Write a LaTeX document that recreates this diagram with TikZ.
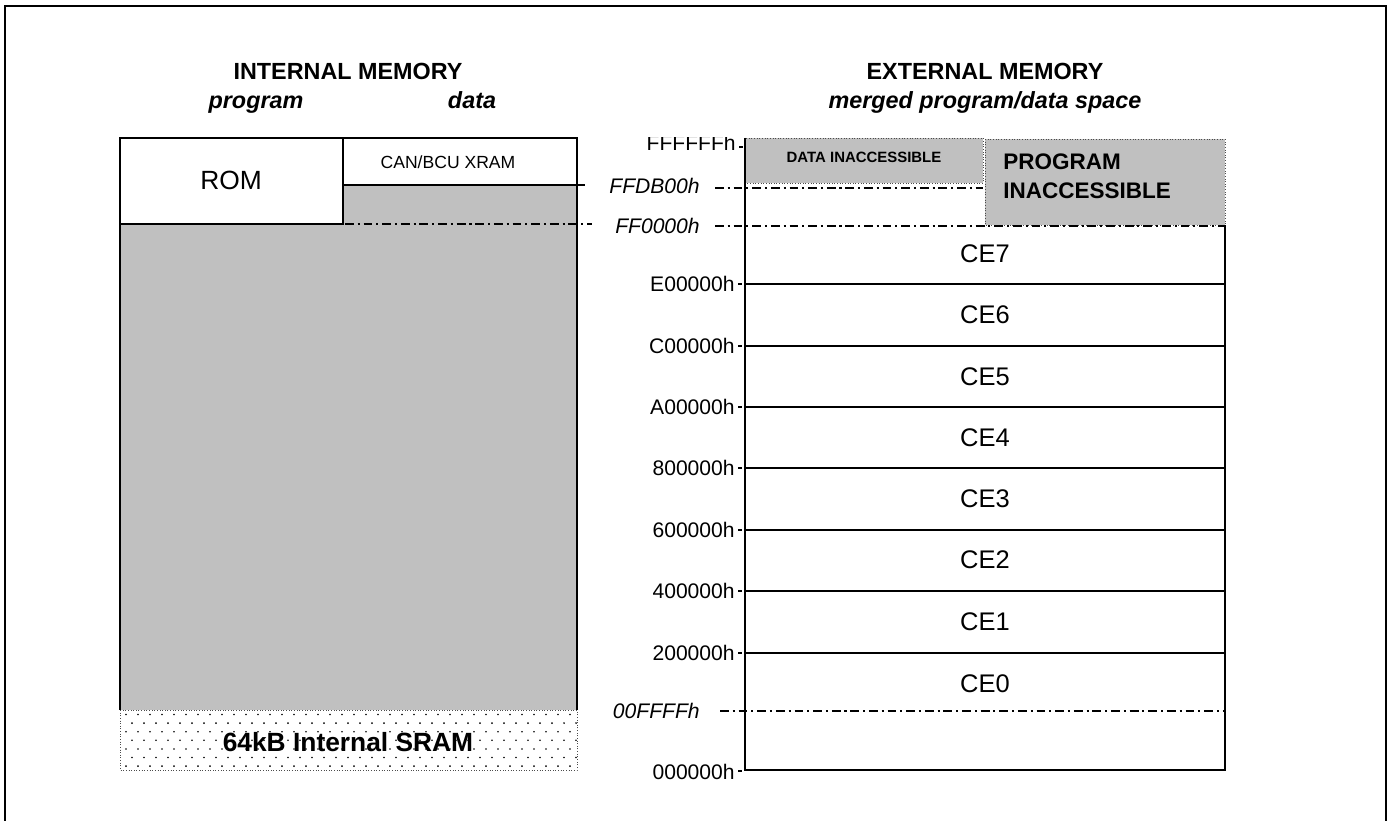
\documentclass[tikz,border=0pt]{standalone}
\usepackage{fontspec}
\setmainfont{Liberation Sans}
\usetikzlibrary{positioning}
\definecolor{memgray}{RGB}{192,192,192}

\begin{document}
\begin{tikzpicture}[
  x=0.02cm, y=-0.02cm,
  box/.style={draw, line width=1.1pt},
  thinbox/.style={draw=black!70, line width=0.5pt, densely dotted},
  dashdot/.style={line width=0.9pt, dash pattern=on 5pt off 2.2pt on 1.2pt off 2.2pt},
  addr/.style={anchor=east, inner sep=0pt, font=\fontsize{12}{14}\selectfont},
  iaddr/.style={addr, font=\fontsize{12}{14}\selectfont\itshape},
  title/.style={anchor=base, inner sep=0pt, font=\fontsize{13.3}{15}\selectfont\bfseries},
  ititle/.style={anchor=base, inner sep=0pt, font=\fontsize{13.3}{15}\selectfont\bfseries\itshape},
  ce/.style={inner sep=0pt, font=\fontsize{14.5}{16}\selectfont},
  ]
  \useasboundingbox (0,0) rectangle (1390,821);
  % frame
  \draw[line width=1.4pt] (5,830) -- (5,6) -- (1386,6) -- (1386,830);

  % titles
  \node[title] (intT) at (348,80) {INTERNAL MEMORY};
  \node[ititle] (progT) at (256,109) {program};
  \node[ititle] (dataT) at (472,109) {data};
  \node[title] (extT) at (985,80) {EXTERNAL MEMORY};
  \node[ititle] (mrgT) at (985,109) {merged program/data space};

  % internal memory
  \fill[memgray] (343,185) rectangle (577,224);
  \fill[memgray] (120,224) rectangle (577,710);
  \draw[box] (120,138) rectangle (343,224);
  \draw[box] (343,138) rectangle (577,185);
  \draw[box] (343,185) -- (577,185) -- (577,710);
  \draw[box] (120,224) -- (120,710);
  \node[inner sep=0pt, font=\fontsize{15}{17}\selectfont] (rom) at (231,180) {ROM};
  \node[inner sep=0pt, font=\fontsize{10}{12}\selectfont] (xram) at (448,162) {CAN/BCU XRAM};
  \draw[line width=1pt] (578,185) -- (585,185);
  \draw[dashdot] (345,224) -- (592,224);

  % internal SRAM (dotted)
  \fill[white] (120,710) rectangle (577,770);
  \foreach \r in {0,...,6} {
    \pgfmathsetmacro{\yy}{714.5+8.6*\r}
    \pgfmathsetmacro{\xo}{mod(\r,2)*6}
    \foreach \c in {0,...,37} {
      \fill (126+\xo+12*\c,\yy) circle (0.9);
    }
  }
  \draw[thinbox] (120,710) rectangle (577,770);
  \node[inner sep=1pt, font=\fontsize{15}{17}\selectfont\bfseries] (sram) at (348,742) {64kB Internal SRAM};

  % external memory: inaccessible areas
  \draw[thinbox, fill=memgray] (745,138) rectangle (983,183);
  \draw[thinbox, fill=memgray] (985,139) rectangle (1225,225);
  \node[inner sep=0pt, font=\fontsize{8.5}{10}\selectfont\bfseries] (dinac) at (864,157) {DATA INACCESSIBLE};
  \node[inner sep=0pt, anchor=west, align=left, font=\fontsize{12.8}{16.5}\selectfont\bfseries] (pinac) at (1003,176) {PROGRAM\\INACCESSIBLE};

  % external memory: chip enable banks
  \draw[box] (745,138) -- (745,770) -- (1225,770) -- (1225,225);
  \begin{scope}
    \clip (600,138) rectangle (745,170);
    \node[addr, anchor=base east] (aF) at (736,151) {FFFFFFh};
  \end{scope}
  \draw[line width=1pt] (739,147) -- (743,147);
  \foreach \y/\a in {284/E00000h, 346/C00000h, 407/A00000h, 468/800000h,
                     530/600000h, 591/400000h, 653/200000h} {
    \node[addr] at (735,\y) {\a};
    \draw[line width=1pt] (738,\y) -- (742,\y);
    \draw[line width=1.1pt] (745,\y) -- (1225,\y);
  }
  \node[addr] (a0) at (735,772) {000000h};
  \draw[line width=1pt] (738,771) -- (742,771);

  \foreach \i/\y in {7/254, 6/315, 5/377, 4/438, 3/499, 2/560, 1/622, 0/684}
    \node[ce] (ce\i) at (985,\y) {CE\i};

  % boundaries
  \node[iaddr] (aDB) at (700,186) {FFDB00h};
  \draw[dashdot] (715,188) -- (983,188);
  \node[iaddr] (aF0) at (700,226) {FF0000h};
  \draw[dashdot] (715,226) -- (1225,226);
  \node[iaddr] (a0F) at (700,711) {00FFFFh};
  \draw[dashdot] (720,711) -- (1225,711);
\end{tikzpicture}
\end{document}
